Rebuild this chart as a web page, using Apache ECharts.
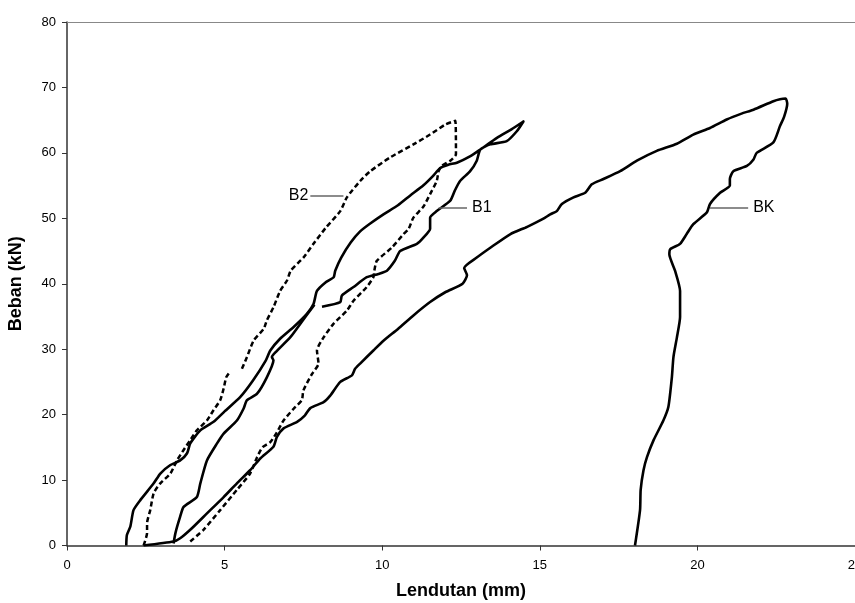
<!DOCTYPE html>
<html>
<head>
<meta charset="utf-8">
<script src="https://cdn.jsdelivr.net/npm/echarts@6/dist/echarts.min.js"></script>
<style>html,body{margin:0;padding:0;background:#fff}#c{width:855px;height:603px}</style>
</head>
<body>
<div id="c"></div>
<script>
// Axis ticks
var xTicks = [0, 5, 10, 15, 20, 25];
var yTicks = [0, 10, 20, 30, 40, 50, 60, 70, 80];

// BK (control beam): loading then unloading, [deflection mm, load kN]
var bkCurve = [
[2.43,0],[3.38,0.6],[3.59,1.1],[3.91,2.4],[4.44,4.9],[4.97,7.4],[5.39,9.5],[5.81,11.5],[6.13,13.3],[6.55,15.1],[6.66,16.6],[6.87,17.9],[7.30,18.9],[7.55,19.9],[7.72,21.0],[8.14,21.9],[8.35,22.9],[8.67,25.0],[9.04,26.0],[9.14,27.0],[9.30,27.8],[9.72,29.8],[10.04,31.3],[10.5,33.1],[11.0,35.2],[11.52,37.2],[12.0,38.7],[12.55,40.0],[12.69,41.3],[12.6,42.4],[13.0,44.0],[13.43,45.5],[14.07,47.6],[14.6,48.7],[15.1,49.9],[15.33,50.6],[15.54,51.1],[15.70,52.2],[16.07,53.2],[16.44,53.9],[16.65,55.2],[17.02,56.0],[17.55,57.2],[18.08,58.8],[18.71,60.3],[19.35,61.4],[19.87,62.8],[20.40,63.8],[20.93,65.1],[21.40,66.0],[21.78,66.6],[22.41,67.9],[22.62,68.2],[22.8,68.3],[22.85,67.5],[22.75,65.5],[22.62,64.1],[22.41,61.6],[21.88,60.0],[21.78,59.0],[21.57,58.0],[21.14,57.2],[21.03,56.0],[21.03,55.0],[20.72,53.9],[20.40,52.2],[20.30,50.9],[19.87,49.1],[19.66,47.6],[19.45,46.1],[19.14,45.3],[19.11,44.5],[19.29,42.0],[19.45,38.9],[19.45,34.9],[19.35,31.8],[19.24,28.8],[19.19,25.7],[19.08,21.2],[18.92,19.1],[18.61,16.1],[18.40,13.5],[18.29,11.5],[18.2,8.5],[18.18,5.4],[18.02,0]
];

// B1: main loop (loading to peak and partial return)
var b1Main = [
[1.88,0],[1.90,1.6],[2.01,2.9],[2.11,5.4],[2.32,6.9],[2.75,9.5],[2.96,11.0],[3.28,12.3],[3.59,13.0],[3.81,14.1],[3.91,15.6],[4.23,17.6],[4.65,18.9],[5.0,20.5],[5.5,22.7],[5.9,25.2],[6.3,28.2],[6.45,29.8],[6.76,31.6],[7.19,33.4],[7.61,35.4],[7.82,36.9],[7.93,38.9],[8.2,40.2],[8.46,41.0],[8.51,42.0],[8.7,44.0],[9.0,46.3],[9.30,48.0],[9.62,49.2],[10.04,50.6],[10.5,52.0],[10.89,53.5],[11.3,55.0],[11.6,56.4],[11.84,57.7],[12.1,58.2],[12.37,58.5],[12.8,59.5],[13.11,60.5],[13.64,62.3],[14.1,63.6],[14.48,64.8],[14.27,63.3],[13.95,61.8],[13.43,61.3],[13.11,60.5],[13.0,58.8],[12.79,57.2],[12.47,55.7],[12.3,54.2],[12.16,52.7],[11.73,51.1],[11.52,50.1],[11.52,48.4],[11.3,47.0],[11.10,46.1],[10.57,45.0],[10.4,43.5],[10.15,42.0],[9.88,41.5],[9.51,41.0],[9.09,39.5],[8.72,38.2],[8.67,37.2],[8.09,36.5]
];
// B1: second branch
var b1Branch = [
[3.38,0.3],[3.44,1.9],[3.59,4.4],[3.70,5.9],[4.12,7.4],[4.23,9.5],[4.44,13.0],[4.76,15.6],[4.97,17.1],[5.39,19.1],[5.6,20.9],[5.71,22.2],[6.03,23.2],[6.34,25.7],[6.55,28.3],[6.50,28.8],[6.61,29.5],[7.08,31.8],[7.3,33.2],[7.6,35.2],[7.85,36.8]
];

// B2 (dashed): first lower segment then main loop
var b2Start = [
[2.43,0],[2.54,1.9],[2.54,3.4],[2.64,5.4],[2.75,8.0],[2.96,9.5],[3.28,11.0],[3.49,13.0],[3.70,14.6],[3.91,16.1],[4.12,17.6],[4.44,19.1],[4.65,20.7],[4.86,22.2],[4.97,24.0],[5.05,25.7],[5.13,26.3]
];
var b2Main = [
[5.55,27.0],[5.71,28.8],[5.92,31.3],[6.24,33.1],[6.34,34.4],[6.55,36.4],[6.76,38.9],[6.98,40.5],[7.1,42.0],[7.5,44.0],[7.82,46.1],[8.2,48.5],[8.67,51.1],[8.88,53.2],[9.30,55.7],[9.62,57.2],[10.25,59.3],[10.99,61.3],[11.52,62.8],[11.99,64.3],[12.32,64.9],[12.34,59.8],[12.16,58.8],[11.89,58.0],[11.79,57.2],[11.73,55.7],[11.52,53.7],[11.31,51.8],[10.99,50.1],[10.84,48.4],[10.68,47.6],[10.3,45.5],[9.83,43.5],[9.75,42.0],[9.72,41.0],[9.51,39.5],[9.09,37.4],[8.88,35.9],[8.46,33.9],[8.14,31.8],[7.93,29.8],[7.98,27.8],[7.77,26.2],[7.50,23.7],[7.45,22.2],[7.19,20.9],[6.87,19.1],[6.66,17.3],[6.45,15.8],[6.2,15.0],[6.03,13.5],[5.81,11.0],[5.39,8.5],[4.86,5.4],[4.33,2.4],[3.91,0.6]
];

// Curve labels: name, leader point on curve, leader outer end (data coords)
var labelNames = ['B2', 'B1', 'BK'];
var labelOnCurve = [[8.77,53.4],[11.79,51.6],[20.40,51.6]];
var labelOuter = [[7.72,53.4],[12.69,51.6],[21.61,51.6]];

var FONT = 'Liberation Sans, Arial, sans-serif';
var chart = echarts.init(document.getElementById('c'), null, {renderer:'canvas'});

function lineSeries(data, dashed, extra) {
  var s = {
    type: 'line', data: data, xAxisIndex: 0, yAxisIndex: 0,
    showSymbol: false, symbol: 'none', smooth: 0.2, animation: false, silent: true,
    lineStyle: {color: '#000', width: dashed ? 2.5 : 2.6, type: dashed ? [5,3] : 'solid', cap: 'butt', join: 'round'}
  };
  if (extra) for (var k in extra) s[k] = extra[k];
  return s;
}

var markData = labelNames.map(function(n, i){
  return [
    {coord: labelOnCurve[i], name: n, label: {show: true, formatter: n, position: 'end', color:'#000', fontSize: 16, fontFamily: FONT, distance: i === 0 ? 2 : 5}},
    {coord: labelOuter[i]}
  ];
});

chart.setOption({
  animation: false,
  backgroundColor: '#fff',
  grid: {left: 67, right: 0, top: 22, bottom: 57.5, containLabel: false, outerBoundsMode: 'none'},
  xAxis: [{
    type: 'value', min: xTicks[0], max: xTicks[xTicks.length-1], interval: 5,
    name: 'Lendutan (mm)', nameLocation: 'middle', nameGap: 37,
    nameTextStyle: {fontFamily: FONT, fontWeight: 'bold', fontSize: 18, color: '#000'},
    axisLine: {show: true, onZero: false, lineStyle: {color: '#333', width: 1.5}},
    axisTick: {show: true, length: 5, lineStyle: {color: '#333'}},
    axisLabel: {fontFamily: FONT, fontSize: 13, color: '#000', margin: 13, showMaxLabel: true},
    splitLine: {show: false}
  },{
    type: 'value', position: 'top', min: 0, max: 25,
    axisLine: {show: true, onZero: false, lineStyle: {color: '#888', width: 1}},
    axisTick: {show: false}, axisLabel: {show: false}, splitLine: {show: false}
  }],
  yAxis: {
    type: 'value', min: yTicks[0], max: yTicks[yTicks.length-1], interval: 10,
    name: 'Beban (kN)', nameLocation: 'middle', nameGap: 42,
    nameTextStyle: {fontFamily: FONT, fontWeight: 'bold', fontSize: 18, color: '#000'},
    axisLine: {show: true, onZero: false, lineStyle: {color: '#333', width: 1.5}},
    axisTick: {show: true, length: 5, lineStyle: {color: '#333'}},
    axisLabel: {fontFamily: FONT, fontSize: 13, color: '#000', margin: 11},
    splitLine: {show: false}
  },
  series: [
    lineSeries(bkCurve, false, {markLine: {silent: true, symbol: ['none','none'], animation:false,
      lineStyle: {color: '#666', width: 1.5, type: 'solid'}, data: markData}}),
    lineSeries(b1Main, false),
    lineSeries(b1Branch, false),
    lineSeries(b2Start, true),
    lineSeries(b2Main, true)
  ]
});
</script>
</body>
</html>
